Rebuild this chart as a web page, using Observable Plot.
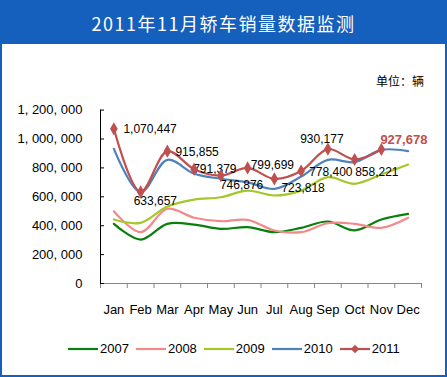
<!DOCTYPE html>
<html>
<head>
<meta charset="utf-8">
<script src="https://cdn.jsdelivr.net/npm/d3@7"></script>
<script src="https://cdn.jsdelivr.net/npm/@observablehq/plot@0.6"></script>
<style>
  html, body { margin: 0; padding: 0; background: #fff; }
  #frame { position: relative; width: 447px; height: 377px; background: #fff; overflow: hidden; }
  #title { position: absolute; left: 0; top: 0; width: 447px; height: 44px; background: #1560BD; color: #fff;
    font-family: "Noto Sans CJK SC", sans-serif; font-size: 18px; letter-spacing: 1.5px; text-align: center; line-height: 47px; }
  #unit { position: absolute; left: 370px; top: 72px; width: 60px; text-align: center; font-family: "Noto Sans CJK SC", sans-serif; font-size: 12px; color: #000; }
  #chart { position: absolute; left: 0; top: 44px; }
  #legend { position: absolute; left: 68px; top: 341px; display: flex; align-items: center; font-family: "Liberation Sans", Arial, sans-serif; font-size: 13px; color: #000; }
  #legend .item { display: flex; align-items: center; margin-right: 7px; }
  #legend svg { margin-right: 2px; }
  #border { position: absolute; left: 0; top: 0; width: 447px; height: 377px; box-sizing: border-box; border: 2px solid #1560BD; pointer-events: none; }
</style>
</head>
<body>
<div id="frame">
  <div id="title">2011年11月轿车销量数据监测</div>
  <div id="unit">单位：辆</div>
  <div id="chart"></div>
  <div id="legend"></div>
  <div id="border"></div>
</div>
<script>
// ---- data ----
const months = ["Jan","Feb","Mar","Apr","May","Jun","Jul","Aug","Sep","Oct","Nov","Dec"];
const years = ["2007","2008","2009","2010","2011"];
const sales2007 = [413000, 304000, 413000, 408000, 378000, 390000, 355000, 385000, 429000, 367000, 443000, 482000];
const sales2008 = [500000, 355000, 517000, 455000, 431000, 440000, 367000, 355000, 417000, 413000, 385000, 455000];
const sales2009 = [443000, 420000, 533000, 581000, 597000, 643000, 609000, 643000, 736000, 690000, 754000, 823000];
const sales2010 = [932000, 632000, 856000, 760000, 725000, 700000, 655000, 740000, 856000, 840000, 925000, 916000];
const sales2011 = [1070447, 633657, 915855, 791379, 746876, 799699, 723818, 778400, 930177, 858221, 927678];
const yTicks = [0, 200000, 400000, 600000, 800000, 1000000, 1200000];
const colors = ["#0B7F0B", "#F28A8A", "#A4C72A", "#4F81BD", "#C0504D"];

// ---- build table ----
const seriesValues = [sales2007, sales2008, sales2009, sales2010, sales2011];
const rows = [];
years.forEach((yr, s) => seriesValues[s].forEach((v, i) => rows.push({year: yr, month: months[i], idx: i + 0.5, value: v})));
const rows2011 = rows.filter(d => d.year === "2011");

// label placement (style only): [dx, dy, anchor]
const labelPlace = {
  Jan: [9.5, 0, "start"], Feb: [-7, 9, "start"], Mar: [8, 0.5, "start"], Apr: [-1, 0.5, "start"],
  May: [-1, 10, "start"], Jun: [3, -2.5, "start"], Jul: [7, 9, "start"], Aug: [8, 1, "start"],
  Sep: [-6, -10, "middle"], Oct: [0.5, 12.5, "start"], Nov: [-1, -10, "start"]
};
const fmtLabel = d3.format(",");

const labelMarks = rows2011.map(d => {
  const [dx, dy, anchor] = labelPlace[d.month];
  const isLast = d.month === "Nov";
  return Plot.text([d], {
    x: "idx", y: "value", text: r => fmtLabel(r.value), dx, dy, textAnchor: anchor,
    fill: isLast ? "#C0504D" : "#000", fontWeight: isLast ? "bold" : "normal",
    fontSize: isLast ? 13 : 12
  });
});

const chart = Plot.plot({
  width: 447,
  height: 290,
  marginLeft: 100,
  marginRight: 26,
  marginTop: 65.6,
  marginBottom: 51,
  style: {fontFamily: "'Liberation Sans', Arial, sans-serif", fontSize: "13px", background: "transparent", color: "#000"},
  x: {type: "linear", domain: [0, 12]},
  y: {domain: [0, 1200000]},
  color: {domain: years, range: colors},
  marks: [
    // axes
    Plot.axisY({ticks: yTicks, tickSize: 0, tickPadding: 18, label: null, fontSize: 13,
      tickFormat: d => d3.format(",")(d).replace(/,/g, ", ")}),
    Plot.axisX({ticks: d3.range(0, 13), tickSize: 5, tickFormat: () => "", label: null, stroke: "#868686"}),
    Plot.axisX({ticks: months.map((m, i) => i + 0.5), tickSize: 0, tickPadding: 21, label: null, fontSize: 13,
      tickFormat: v => months[Math.round(v - 0.5)]}),
    Plot.ruleY([0], {stroke: "#868686", strokeWidth: 1.2}),
    Plot.ruleX([0], {stroke: "#000", y1: 0, y2: 1200000}),
    Plot.ruleY(yTicks, {x1: 0, x2: 0.15, stroke: "#000"}),
    // series
    Plot.line(rows, {x: "idx", y: "value", z: "year", stroke: "year", strokeWidth: 2.2, curve: "catmull-rom"}),
    ...labelMarks,
    Plot.dot(rows2011, {x: "idx", y: "value", symbol: "diamond", r: 4, fill: "#C0504D", stroke: "none"})
  ]
});
document.getElementById("chart").appendChild(chart);

// legend
const legend = document.getElementById("legend");
years.forEach((yr, s) => {
  const item = document.createElement("div");
  item.className = "item";
  const diamond = yr === "2011" ? `<path d="M15,0.8 L19.2,5 L15,9.2 L10.8,5 Z" fill="${colors[s]}"/>` : "";
  item.innerHTML = `<svg width="30" height="10"><line x1="0" y1="5" x2="30" y2="5" stroke="${colors[s]}" stroke-width="2.2"/>${diamond}</svg><span>${yr}</span>`;
  legend.appendChild(item);
});
</script>
</body>
</html>
